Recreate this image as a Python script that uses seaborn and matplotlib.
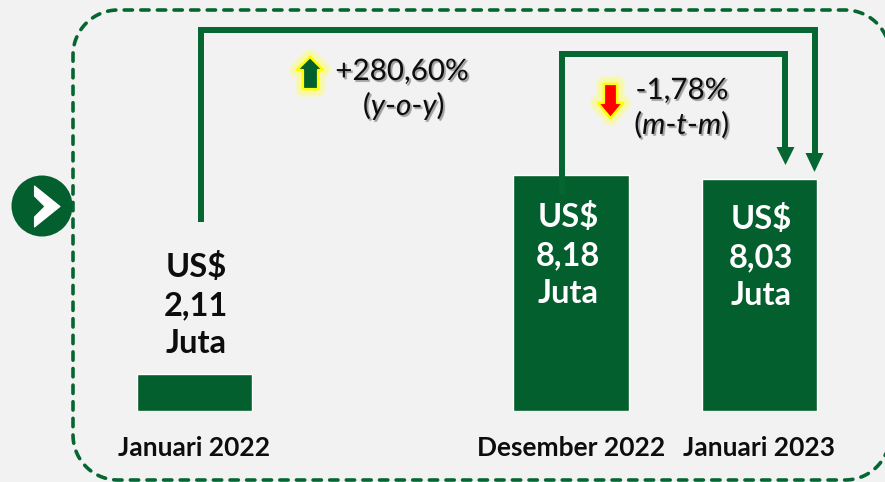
# -*- coding: utf-8 -*-
import numpy as np
import pandas as pd
import matplotlib.pyplot as plt
import seaborn as sns
from matplotlib.patches import Circle, Polygon
import matplotlib.patheffects as pe

# Data
months = ["Januari 2022", "Desember 2022", "Januari 2023"]
slots = ["Januari 2022", " ", "Desember 2022", "Januari 2023"]  # empty slot between the first two bars
values = [2.11, 8.18, 8.03]
# the first bar is drawn much shorter in the original than its 2,11 label would give
drawn_heights = [1.27, 8.18, 8.03]
value_labels = ["US$\n2,11\nJuta", "US$\n8,18\nJuta", "US$\n8,03\nJuta"]
yoy_label = "+280,60%"
mtm_label = "-1,78%"

BG = "#F2F2F2"
GREEN = "#035F2E"
LINE = "#056632"

sns.set_theme(style="white", rc={"figure.facecolor": BG, "axes.facecolor": BG})
plt.rcParams["font.family"] = ["Lato", "DejaVu Sans"]
plt.rcParams["mathtext.fontset"] = "custom"
plt.rcParams["mathtext.it"] = "Lato:italic"
plt.rcParams["mathtext.rm"] = "Lato"

W, H = 885, 482
fig = plt.figure(figsize=(W / 100, H / 100), dpi=100)

# bars: axes baseline sits at y=411 px, 28.85 px per unit
ax = fig.add_axes([100.35 / W, (H - 411) / H, 753.3 / W, 411 / H])
df = pd.DataFrame({"month": months, "height": drawn_heights})
sns.barplot(data=df, x="month", y="height", order=slots, color=GREEN,
            saturation=1, width=0.614, ax=ax)
ax.set_xlim(-0.5, 3.5)
ax.set_ylim(0, 411 / 28.85)
ax.set_xlabel("")
ax.set_ylabel("")
ax.set_yticks([])
ax.tick_params(axis="x", length=0, pad=18)
for t in ax.get_xticklabels():
    t.set_fontsize(19)
    t.set_fontweight("bold")
    t.set_color("#0D0D0D")
sns.despine(ax=ax, left=True, bottom=True)

# overlay in pixel coordinates for frame, connectors and call-outs
ov = fig.add_axes([0, 0, 1, 1], zorder=5)
ov.set_xlim(0, W)
ov.set_ylim(H, 0)
ov.axis("off")
ov.patch.set_alpha(0)


def corner(cx, cy, a0, a1, r=45):
    a = np.radians(np.linspace(a0, a1, 30))
    return cx + r * np.cos(a), cy + r * np.sin(a)


# dashed frame runs off the right edge, so it is left open there
xs, ys = [], []
for cx, cy, a0, a1 in [(845, 55, 0, -90), (118, 55, -90, -180), (118, 435, 180, 90), (845, 435, 90, 0)]:
    cxs, cys = corner(cx, cy, a0, a1)
    xs.extend(cxs)
    ys.extend(cys)
ov.plot(xs, ys, color=LINE, lw=2.6, linestyle=(0, (2.3, 2.3)), dash_capstyle="round")

# connectors
ov.plot([201, 201, 814.5, 814.5], [222, 30, 30, 155], color=LINE, lw=4.3,
        solid_joinstyle="miter", solid_capstyle="butt")
ov.plot([561.5, 561.5, 785, 785], [195, 54, 54, 149], color=LINE, lw=4.3,
        solid_joinstyle="miter", solid_capstyle="butt")
ov.add_patch(Polygon([(805.5, 153), (823.5, 153), (814.5, 172)], fc=LINE, ec="none"))
ov.add_patch(Polygon([(776.5, 147), (794.5, 147), (785.5, 165)], fc=LINE, ec="none"))

# badge on the left edge
ov.add_patch(Circle((42, 206), 30.5, fc=GREEN, ec="none", zorder=4))
ov.add_patch(Polygon([(34.5, 186), (60, 206.5), (34.5, 227), (34.5, 217),
                      (45, 206.5), (34.5, 196)], fc="white", ec="white", lw=0.8,
                     joinstyle="round", zorder=5))

# up and down arrows with the yellow glow
glow = [pe.withStroke(linewidth=w, foreground="#FFFF66", alpha=0.25) for w in (12, 9, 6)]
up = Polygon([(310, 57), (323, 70), (318, 70), (318, 89), (303, 89), (303, 70), (297, 70)],
             fc=GREEN, ec="#FFFF00", lw=1.6, joinstyle="round")
up.set_path_effects(glow + [pe.Normal()])
ov.add_patch(up)
down = Polygon([(610.5, 118), (623, 103), (617, 103), (617, 84), (604, 84), (604, 103), (598, 103)],
               fc="#FF0000", ec="#FFFF00", lw=1.6, joinstyle="round")
down.set_path_effects(glow + [pe.Normal()])
ov.add_patch(down)

# value labels
for lab, x, y, c in zip(value_labels, [196, 568, 761], [305, 255, 257],
                        ["#0D0D0D", "white", "white"]):
    ov.text(x, y, lab, ha="center", va="center", fontsize=23.5, fontweight="bold",
            color=c, linespacing=1.37)

# call-out text
shadow = [pe.Stroke(linewidth=0.8, foreground="#999999", alpha=0.35, offset=(1.2, -1.2)), pe.Normal()]
for txt, x, y in [(yoy_label, 402, 80), (r"($\mathit{y}$-$\mathit{o}$-$\mathit{y}$)", 404, 115),
                  (mtm_label, 682, 99), (r"($\mathit{m}$-$\mathit{t}$-$\mathit{m}$)", 682, 134)]:
    s = ov.text(x, y, txt, ha="center", va="baseline", fontsize=21.3, color="#0D0D0D")
    s.set_path_effects(shadow)

fig.savefig("out.png", dpi=100, facecolor=BG)
